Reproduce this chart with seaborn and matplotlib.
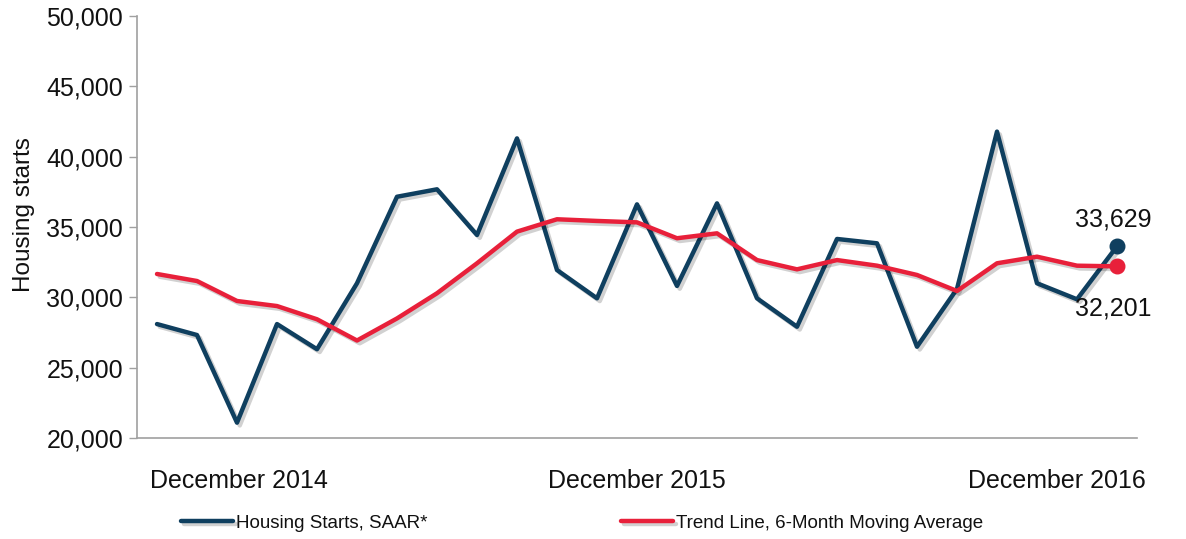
import numpy as np
import pandas as pd
import matplotlib
matplotlib.use("Agg")
import matplotlib.pyplot as plt
import matplotlib.patheffects as pe
import seaborn as sns

# ---- data ----
months = pd.period_range("2014-12", "2016-12", freq="M").strftime("%b %Y").tolist()
housing_starts = [28100, 27320, 21090, 28100, 26310, 31000, 37150, 37680, 34430, 41300,
                  31940, 29930, 36610, 30810, 36680, 29930, 27910, 34150, 33840, 26490,
                  30600, 41780, 31000, 29860, 33629]
trend_6m = [31660, 31160, 29740, 29380, 28440, 26930, 28500, 30290, 32420, 34670,
            35550, 35430, 35330, 34200, 34550, 32650, 31990, 32650, 32250, 31590,
            30450, 32420, 32890, 32250, 32201]
tick_labels = ["December 2014", "December 2015", "December 2016"]
series_names = ["Housing Starts, SAAR*", "Trend Line, 6-Month Moving Average"]

BLUE = "#0f3f5f"
RED = "#e8203a"

sns.set_theme(style="white")
plt.rcParams["font.family"] = ["Liberation Sans", "DejaVu Sans"]

fig = plt.figure(figsize=(11.86, 5.39), dpi=100)
ax = fig.add_axes([137/1186, 1-438/539, 1000/1186, (438-16)/539])

df = pd.DataFrame({"idx": np.arange(len(months)), "month": months,
                   "starts": housing_starts, "trend": trend_6m})

shadow = [pe.SimpleLineShadow(offset=(2, -2), alpha=0.18, shadow_color="black"), pe.Normal()]
sns.lineplot(data=df, x="idx", y="starts", color=BLUE, lw=3.2, ax=ax,
             label=series_names[0], path_effects=shadow)
sns.lineplot(data=df, x="idx", y="trend", color=RED, lw=3.2, ax=ax,
             label=series_names[1], path_effects=shadow)

last = len(months) - 1
ax.scatter([last], [housing_starts[-1]], s=110, color=BLUE, zorder=5)
ax.scatter([last], [trend_6m[-1]], s=110, color=RED, zorder=5)
ax.annotate(f"{housing_starts[-1]:,}", (last, housing_starts[-1]), xytext=(-30, 11),
            textcoords="offset points", fontsize=18, ha="left", va="bottom", color="#111111")
ax.annotate(f"{trend_6m[-1]:,}", (last, trend_6m[-1]), xytext=(-30, -22),
            textcoords="offset points", fontsize=18, ha="left", va="top", color="#111111")

ax.set_xlim(-0.5, len(months) - 0.5)
ax.set_ylim(20000, 50000)
ax.set_yticks(np.arange(20000, 50001, 5000))
ax.yaxis.set_major_formatter(matplotlib.ticker.FuncFormatter(lambda v, p: f"{int(v):,}"))
ax.set_xticks([2.05, 12.0, 22.5])
ax.set_xticklabels(tick_labels)

ax.tick_params(axis="y", which="major", left=True, length=6, width=1, color="#a0a0a0",
               labelsize=18, labelcolor="#111111", pad=4)
ax.tick_params(axis="x", bottom=False, labelsize=18, labelcolor="#111111", pad=16)

for s in ["top", "right"]:
    ax.spines[s].set_visible(False)
for s in ["left", "bottom"]:
    ax.spines[s].set_color("#a0a0a0")
    ax.spines[s].set_linewidth(1.2)

ax.set_xlabel("")
ax.set_ylabel("Housing starts", fontsize=17.5, color="#111111")
ax.yaxis.set_label_coords(-0.102, 0.53)

handles, labels = ax.get_legend_handles_labels()
ax.get_legend().remove()
leg = fig.legend(handles, labels, loc="center left", bbox_to_anchor=(164/1186, 1-523/539),
                 ncol=2, frameon=False, fontsize=13.5, handlelength=2.8, handletextpad=0.15,
                 columnspacing=10.3)
for t in leg.get_texts():
    t.set_color("#111111")

fig.savefig("out.png", dpi=100)
